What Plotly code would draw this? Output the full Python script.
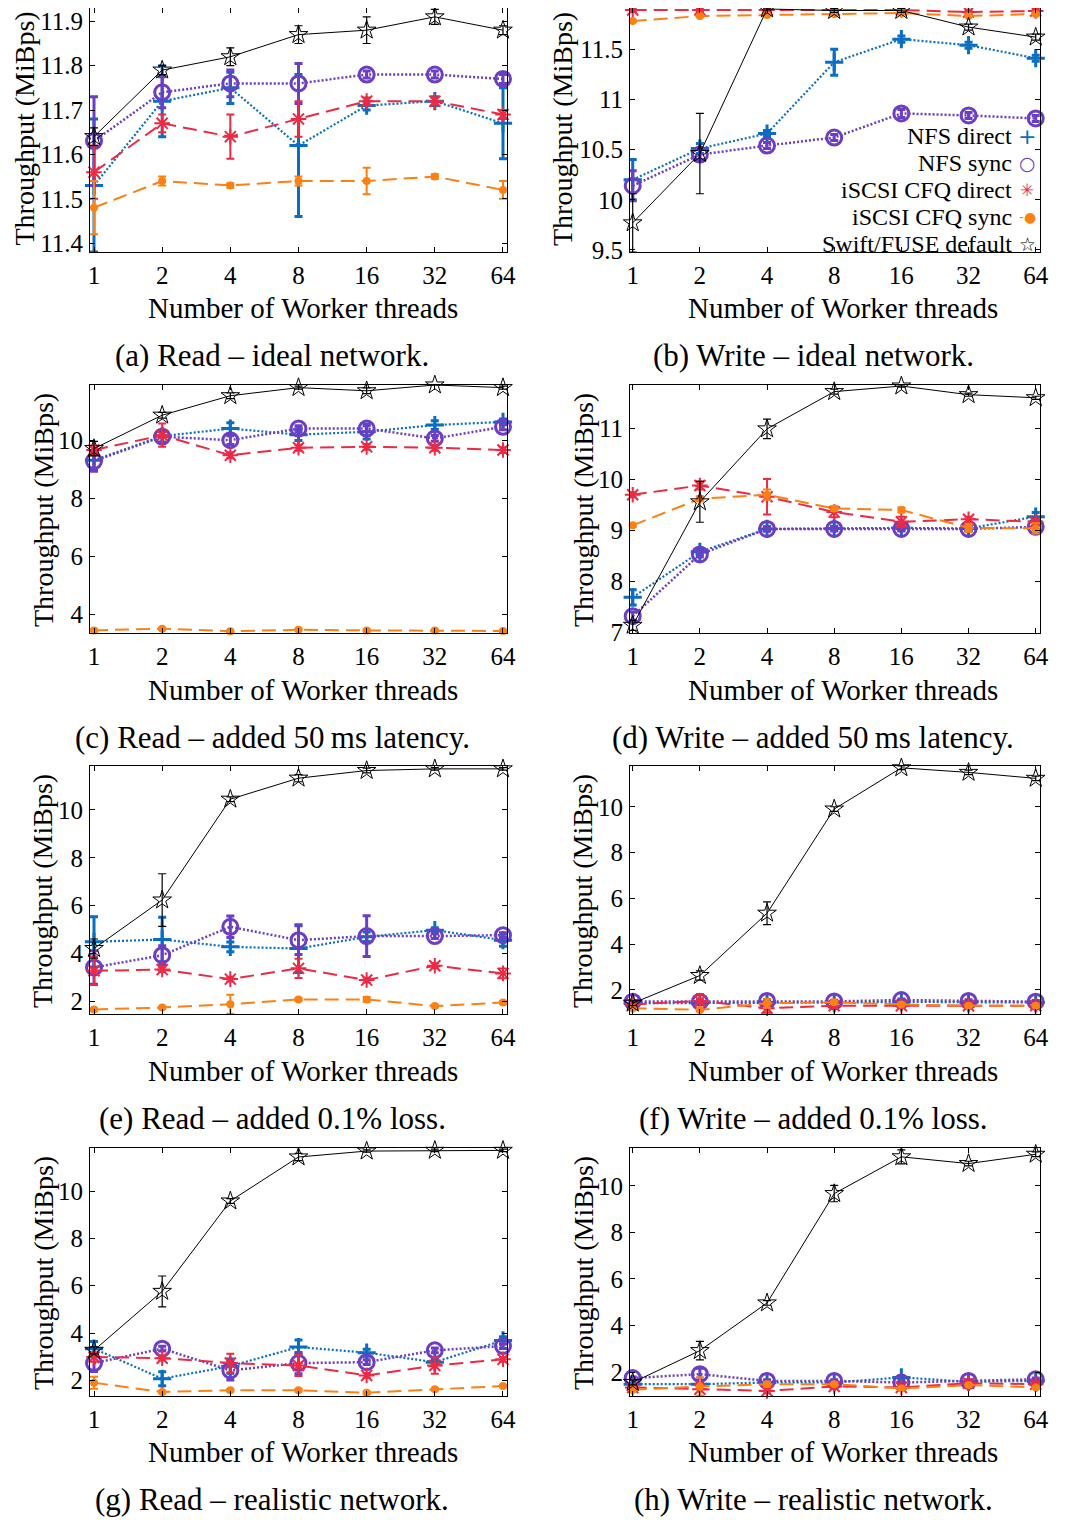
import plotly.graph_objects as go

# ---------------- data ----------------
threads = [1, 2, 4, 8, 16, 32, 64]
tick_labels = ["1", "2", "4", "8", "16", "32", "64"]
series_names = ["NFS direct", "NFS sync", "iSCSI CFQ direct", "iSCSI CFQ sync", "Swift/FUSE default"]

# (a) Read - ideal network
a_nfs_direct = [11.53, 11.72, 11.75, 11.62, 11.71, 11.72, 11.67]
a_nfs_direct_err = [0.15, 0.08, 0.035, 0.16, 0.01, 0.01, 0.08]
a_nfs_sync = [11.63, 11.74, 11.76, 11.76, 11.78, 11.78, 11.77]
a_nfs_sync_err = [0.10, 0.035, 0.03, 0.045, 0.008, 0.008, 0.01]
a_iscsi_direct = [11.56, 11.67, 11.64, 11.68, 11.72, 11.72, 11.69]
a_iscsi_direct_err = [0.06, 0.02, 0.05, 0.04, 0.008, 0.008, 0.01]
a_iscsi_sync = [11.48, 11.54, 11.53, 11.54, 11.54, 11.55, 11.52]
a_iscsi_sync_err = [0.06, 0.01, 0.005, 0.01, 0.03, 0.005, 0.02]
a_swift = [11.64, 11.79, 11.82, 11.87, 11.88, 11.91, 11.88]
a_swift_err = [0.02, 0.01, 0.02, 0.02, 0.03, 0.017, 0.01]

# (b) Write - ideal network
b_nfs_direct = [10.2, 10.51, 10.66, 11.37, 11.6, 11.54, 11.41]
b_nfs_direct_err = [0.2, 0.05, 0.03, 0.13, 0.03, 0.03, 0.03]
b_nfs_sync = [10.14, 10.45, 10.54, 10.62, 10.86, 10.84, 10.81]
b_nfs_sync_err = [0.15, 0.05, 0.03, 0.03, 0.04, 0.03, 0.03]
b_iscsi_direct = [11.89, 11.89, 11.89, 11.89, 11.89, 11.87, 11.88]
b_iscsi_direct_err = [0.02, 0.02, 0.02, 0.02, 0.02, 0.02, 0.02]
b_iscsi_sync = [11.78, 11.83, 11.84, 11.85, 11.86, 11.83, 11.85]
b_iscsi_sync_err = [0.01, 0.01, 0.01, 0.01, 0.01, 0.01, 0.01]
b_swift = [9.77, 10.46, 11.9, 11.885, 11.885, 11.72, 11.62]
b_swift_err = [0.29, 0.4, 0.01, 0.02, 0.02, 0.03, 0.03]

# (c) Read - added 50 ms latency
c_nfs_direct = [9.32, 10.15, 10.41, 10.2, 10.3, 10.53, 10.64]
c_nfs_direct_err = [0.3, 0.2, 0.2, 0.2, 0.25, 0.15, 0.1]
c_nfs_sync = [9.29, 10.13, 10.01, 10.41, 10.41, 10.07, 10.47]
c_nfs_sync_err = [0.35, 0.2, 0.15, 0.1, 0.1, 0.1, 0.1]
c_iscsi_direct = [9.67, 10.18, 9.49, 9.75, 9.78, 9.75, 9.67]
c_iscsi_direct_err = [0.15, 0.4, 0.1, 0.1, 0.1, 0.1, 0.1]
c_iscsi_sync = [3.46, 3.52, 3.43, 3.48, 3.46, 3.46, 3.44]
c_iscsi_sync_err = [0.03, 0.03, 0.03, 0.03, 0.03, 0.03, 0.03]
c_swift = [9.72, 10.87, 11.54, 11.82, 11.71, 11.91, 11.82]
c_swift_err = [0.25, 0.1, 0.1, 0.05, 0.1, 0.0, 0.05]

# (d) Write - added 50 ms latency
d_nfs_direct = [7.69, 8.58, 9.03, 9.04, 9.05, 9.04, 9.27]
d_nfs_direct_err = [0.15, 0.05, 0.04, 0.04, 0.04, 0.04, 0.08]
d_nfs_sync = [7.32, 8.53, 9.03, 9.03, 9.03, 9.03, 9.07]
d_nfs_sync_err = [0.08, 0.05, 0.04, 0.04, 0.04, 0.04, 0.05]
d_iscsi_direct = [9.7, 9.88, 9.66, 9.36, 9.17, 9.22, 9.17]
d_iscsi_direct_err = [0.05, 0.08, 0.35, 0.1, 0.1, 0.05, 0.05]
d_iscsi_sync = [9.1, 9.62, 9.7, 9.43, 9.4, 9.05, 9.04]
d_iscsi_sync_err = [0.03, 0.05, 0.1, 0.05, 0.05, 0.08, 0.1]
d_swift = [7.14, 9.56, 10.99, 11.72, 11.83, 11.66, 11.6]
d_swift_err = [0.1, 0.4, 0.19, 0.05, 0.02, 0.03, 0.03]

# (e) Read - added 0.1% loss
e_nfs_direct = [4.48, 4.58, 4.27, 4.2, 4.69, 4.97, 4.55]
e_nfs_direct_err = [1.05, 0.93, 0.2, 1.0, 0.2, 0.1, 0.25]
e_nfs_sync = [3.41, 3.92, 5.11, 4.55, 4.72, 4.72, 4.76]
e_nfs_sync_err = [0.7, 0.4, 0.45, 0.6, 0.85, 0.1, 0.1]
e_iscsi_direct = [3.27, 3.32, 2.92, 3.37, 2.88, 3.48, 3.16]
e_iscsi_direct_err = [0.6, 0.1, 0.1, 0.4, 0.1, 0.1, 0.2]
e_iscsi_sync = [1.65, 1.73, 1.87, 2.07, 2.07, 1.79, 1.94]
e_iscsi_sync_err = [0.05, 0.05, 0.4, 0.05, 0.1, 0.05, 0.05]
e_swift = [4.2, 6.23, 10.45, 11.33, 11.65, 11.72, 11.72]
e_swift_err = [0.4, 1.1, 0.1, 0.15, 0.1, 0.05, 0.05]

# (f) Write - added 0.1% loss
f_nfs_direct = [1.42, 1.42, 1.45, 1.45, 1.48, 1.45, 1.45]
f_nfs_direct_err = [0.05, 0.05, 0.05, 0.05, 0.05, 0.05, 0.05]
f_nfs_sync = [1.49, 1.49, 1.52, 1.5, 1.56, 1.52, 1.49]
f_nfs_sync_err = [0.05, 0.05, 0.05, 0.05, 0.05, 0.05, 0.05]
f_iscsi_direct = [1.37, 1.52, 1.2, 1.31, 1.31, 1.31, 1.31]
f_iscsi_direct_err = [0.05, 0.3, 0.2, 0.1, 0.1, 0.05, 0.05]
f_iscsi_sync = [1.2, 1.13, 1.42, 1.46, 1.37, 1.31, 1.31]
f_iscsi_sync_err = [0.05, 0.05, 0.2, 0.05, 0.05, 0.05, 0.05]
f_swift = [1.42, 2.63, 5.35, 9.9, 11.7, 11.5, 11.24]
f_swift_err = [0.1, 0.2, 0.5, 0.1, 0.08, 0.1, 0.1]

# (g) Read - realistic network
g_nfs_direct = [3.34, 2.07, 2.6, 3.41, 3.17, 2.77, 3.69]
g_nfs_direct_err = [0.3, 0.3, 0.3, 0.3, 0.15, 0.1, 0.15]
g_nfs_sync = [2.73, 3.34, 2.42, 2.73, 2.77, 3.27, 3.45]
g_nfs_sync_err = [0.35, 0.1, 0.4, 0.45, 0.1, 0.1, 0.1]
g_iscsi_direct = [2.99, 2.94, 2.73, 2.63, 2.21, 2.63, 2.89]
g_iscsi_direct_err = [0.2, 0.1, 0.4, 0.45, 0.1, 0.35, 0.1]
g_iscsi_sync = [1.9, 1.51, 1.58, 1.58, 1.48, 1.62, 1.76]
g_iscsi_sync_err = [0.25, 0.05, 0.05, 0.05, 0.05, 0.05, 0.05]
g_swift = [3.27, 5.76, 9.58, 11.44, 11.69, 11.72, 11.72]
g_swift_err = [0.15, 0.65, 0.1, 0.15, 0.05, 0.05, 0.05]

# (h) Write - realistic network
h_nfs_direct = [1.48, 1.48, 1.55, 1.55, 1.77, 1.58, 1.62]
h_nfs_direct_err = [0.05, 0.05, 0.05, 0.05, 0.05, 0.05, 0.05]
h_nfs_sync = [1.74, 1.91, 1.62, 1.62, 1.55, 1.62, 1.69]
h_nfs_sync_err = [0.05, 0.25, 0.05, 0.05, 0.05, 0.05, 0.05]
h_iscsi_direct = [1.34, 1.26, 1.19, 1.38, 1.34, 1.52, 1.48]
h_iscsi_direct_err = [0.05, 0.3, 0.1, 0.1, 0.1, 0.05, 0.05]
h_iscsi_sync = [1.24, 1.38, 1.48, 1.48, 1.29, 1.44, 1.34]
h_iscsi_sync_err = [0.05, 0.4, 0.1, 0.05, 0.05, 0.05, 0.05]
h_swift = [1.55, 2.92, 4.97, 9.67, 11.25, 10.96, 11.36]
h_swift_err = [0.1, 0.4, 0.1, 0.35, 0.3, 0.1, 0.1]

captions = [
    "(a) Read – ideal network.",
    "(b) Write – ideal network.",
    "(c) Read – added 50\u2009ms latency.",
    "(d) Write – added 50\u2009ms latency.",
    "(e) Read – added 0.1% loss.",
    "(f) Write – added 0.1% loss.",
    "(g) Read – realistic network.",
    "(h) Write – realistic network.",
]
y_ticks = [
    [11.4, 11.5, 11.6, 11.7, 11.8, 11.9],
    [9.5, 10, 10.5, 11, 11.5],
    [4, 6, 8, 10],
    [7, 8, 9, 10, 11],
    [2, 4, 6, 8, 10],
    [2, 4, 6, 8, 10],
    [2, 4, 6, 8, 10],
    [2, 4, 6, 8, 10],
]
y_tick_labels = [
    ["11.4", "11.5", "11.6", "11.7", "11.8", "11.9"],
    ["9.5", "10", "10.5", "11", "11.5"],
    ["4", "6", "8", "10"],
    ["7", "8", "9", "10", "11"],
    ["2", "4", "6", "8", "10"],
    ["2", "4", "6", "8", "10"],
    ["2", "4", "6", "8", "10"],
    ["2", "4", "6", "8", "10"],
]
y_ranges = [
    [11.38, 11.93], [9.48, 11.91], [3.37, 11.91], [6.99, 11.85],
    [1.46, 11.84], [0.95, 11.78], [1.34, 11.82], [0.97, 11.63],
]

panels = [
    (a_nfs_direct, a_nfs_direct_err, a_nfs_sync, a_nfs_sync_err, a_iscsi_direct, a_iscsi_direct_err, a_iscsi_sync, a_iscsi_sync_err, a_swift, a_swift_err),
    (b_nfs_direct, b_nfs_direct_err, b_nfs_sync, b_nfs_sync_err, b_iscsi_direct, b_iscsi_direct_err, b_iscsi_sync, b_iscsi_sync_err, b_swift, b_swift_err),
    (c_nfs_direct, c_nfs_direct_err, c_nfs_sync, c_nfs_sync_err, c_iscsi_direct, c_iscsi_direct_err, c_iscsi_sync, c_iscsi_sync_err, c_swift, c_swift_err),
    (d_nfs_direct, d_nfs_direct_err, d_nfs_sync, d_nfs_sync_err, d_iscsi_direct, d_iscsi_direct_err, d_iscsi_sync, d_iscsi_sync_err, d_swift, d_swift_err),
    (e_nfs_direct, e_nfs_direct_err, e_nfs_sync, e_nfs_sync_err, e_iscsi_direct, e_iscsi_direct_err, e_iscsi_sync, e_iscsi_sync_err, e_swift, e_swift_err),
    (f_nfs_direct, f_nfs_direct_err, f_nfs_sync, f_nfs_sync_err, f_iscsi_direct, f_iscsi_direct_err, f_iscsi_sync, f_iscsi_sync_err, f_swift, f_swift_err),
    (g_nfs_direct, g_nfs_direct_err, g_nfs_sync, g_nfs_sync_err, g_iscsi_direct, g_iscsi_direct_err, g_iscsi_sync, g_iscsi_sync_err, g_swift, g_swift_err),
    (h_nfs_direct, h_nfs_direct_err, h_nfs_sync, h_nfs_sync_err, h_iscsi_direct, h_iscsi_direct_err, h_iscsi_sync, h_iscsi_sync_err, h_swift, h_swift_err),
]

# ---------------- styles ----------------
OFF = 8  # the page body has an 8px margin; positions below are page pixels
W, H = 1078 - OFF, 1520 - OFF
FONT = "Liberation Serif, Times New Roman, serif"
BLUE = "#0a6fc2"
PURPLE = "#6b3ec4"
RED = "#ec2a45"
ORANGE = "#fd8112"
BLACK = "#000000"

styles = [
    dict(color=BLUE, symbol="cross-thin-open", size=13, mlw=3, dash="2px,2px", lw=2.2, ew=3),
    dict(color=PURPLE, symbol="circle-open", size=15, mlw=3, dash="2px,2px", lw=2.5, ew=3),
    dict(color=RED, symbol="asterisk-open", size=13, mlw=2, dash="14px,7px", lw=2, ew=2),
    dict(color=ORANGE, symbol="circle", size=8, mlw=0, dash="14px,7px", lw=2, ew=2),
    dict(color=BLACK, symbol="star-open", size=14, mlw=1, dash="solid", lw=1, ew=1.2),
]


def px_x(px):
    return (px - OFF) / W


def px_y(py):
    return 1 - (py - OFF) / H


x_left = [px_x(90), px_x(507)]
x_right = [px_x(630), px_x(1040)]
rows_px = [(4, 252), (385, 633), (766, 1014), (1148, 1396)]
xr_left = [-0.0177, 1.8239]
xr_right = [-0.0121, 1.8254]

fig = go.Figure()
layout = dict(
    template="none",
    width=W, height=H,
    margin=dict(l=0, r=0, t=0, b=0, pad=0, autoexpand=False),
    paper_bgcolor="white", plot_bgcolor="white",
    showlegend=False,
    font=dict(family=FONT, color="black"),
)

annotations = []

for i, pdata in enumerate(panels):
    col = i % 2
    row = i // 2
    n = i + 1
    xa = "x" if n == 1 else f"x{n}"
    ya = "y" if n == 1 else f"y{n}"
    top, bot = rows_px[row]
    layout["xaxis" if n == 1 else f"xaxis{n}"] = dict(
        domain=x_left if col == 0 else x_right,
        anchor=ya, type="log", automargin=False,
        range=xr_left if col == 0 else xr_right,
        tickvals=threads, ticktext=tick_labels,
        ticks="inside", ticklen=5, tickwidth=1, tickcolor="black",
        showline=True, linecolor="black", linewidth=1, mirror="ticks",
        showgrid=False, zeroline=False,
        tickfont=dict(family=FONT, size=25, color="black"),
        ticklabelstandoff=1,
    )
    layout["yaxis" if n == 1 else f"yaxis{n}"] = dict(
        domain=[max(0, px_y(bot)), min(1, px_y(top))],
        anchor=xa, range=y_ranges[i], automargin=False,
        tickvals=y_ticks[i], ticktext=y_tick_labels[i],
        ticks="inside", ticklen=5, tickwidth=1, tickcolor="black",
        showline=True, linecolor="black", linewidth=1, mirror="ticks",
        showgrid=False, zeroline=False,
        tickfont=dict(family=FONT, size=25, color="black"),
        ticklabelstandoff=1,
    )
    for s in range(5):
        st = styles[s]
        vals = pdata[2 * s]
        errs = pdata[2 * s + 1]
        fig.add_trace(go.Scatter(
            x=threads, y=vals, xaxis=xa, yaxis=ya,
            name=series_names[s], mode="lines+markers",
            line=dict(color=st["color"], width=st["lw"], dash=st["dash"]),
            marker=dict(symbol=st["symbol"], size=st["size"], color=st["color"],
                        line=dict(color=st["color"], width=st["mlw"])),
            error_y=dict(type="data", array=errs, visible=True, color=st["color"],
                         thickness=st["ew"], width=4),
            cliponaxis=False, showlegend=False,
        ))

    # axis titles
    cx = 303 if col == 0 else 843
    xt_y = [308, 690, 1071, 1452][row]
    annotations.append(dict(text="Number of Worker threads", x=px_x(cx), y=px_y(xt_y),
                            xref="paper", yref="paper", showarrow=False,
                            xanchor="center", yanchor="middle",
                            font=dict(family=FONT, size=29, color="black")))
    if row == 0:
        yx = 24.5 if col == 0 else 563
    else:
        yx = 43 if col == 0 else 583
    annotations.append(dict(text="Throughput (MiBps)", x=px_x(yx), y=px_y((top + bot) / 2 + 1),
                            xref="paper", yref="paper", showarrow=False, textangle=-90,
                            xanchor="center", yanchor="middle", borderpad=0,
                            font=dict(family=FONT, size=28, color="black")))
    cap_x = 272 if col == 0 else 813
    cap_y = [356, 737, 1118, 1499][row]
    annotations.append(dict(text=captions[i], x=px_x(cap_x), y=px_y(cap_y),
                            xref="paper", yref="paper", showarrow=False,
                            xanchor="center", yanchor="middle",
                            font=dict(family=FONT, size=31, color="black")))

# legend (panel b), text right-aligned with glyph on the right, as in the original
legend_glyphs = ["+", "○", "✳", "-●", "☆"]
legend_glyph_colors = [BLUE, PURPLE, RED, ORANGE, BLACK]
legend_glyph_sizes = [22, 19, 17, 14, 19]
legend_y = [136, 163, 190, 217, 244]
for k in range(5):
    annotations.append(dict(text=series_names[k], x=px_x(1013), y=px_y(legend_y[k]),
                            xref="paper", yref="paper", showarrow=False,
                            xanchor="right", yanchor="middle", borderpad=0,
                            font=dict(family=FONT, size=24, color="black")))
    annotations.append(dict(text=legend_glyphs[k], x=px_x(1027), y=px_y(legend_y[k]),
                            xref="paper", yref="paper", showarrow=False,
                            xanchor="center", yanchor="middle", borderpad=0,
                            font=dict(family="DejaVu Sans", size=legend_glyph_sizes[k],
                                      color=legend_glyph_colors[k])))

layout["annotations"] = annotations
fig.update_layout(**layout)
fig.write_html("out.html")
